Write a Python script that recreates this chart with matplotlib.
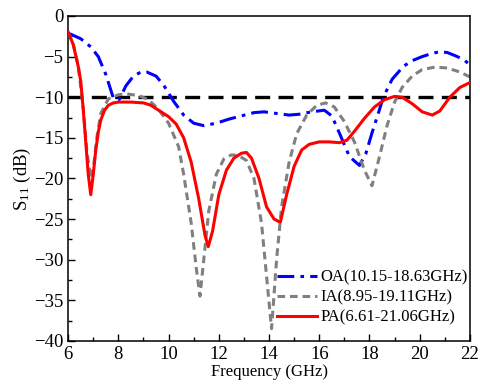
import matplotlib
matplotlib.use('Agg')
import matplotlib.pyplot as plt
from matplotlib.ticker import MultipleLocator

plt.rcParams['font.family'] = ['Liberation Serif', 'DejaVu Serif']
plt.rcParams['mathtext.fontset'] = 'custom'
plt.rcParams['mathtext.rm'] = 'Liberation Serif'
plt.rcParams['mathtext.it'] = 'Liberation Serif:italic'

# OA antenna
oa_f = [6.0, 6.5, 6.9, 7.2, 7.5, 7.8, 8.03, 8.3, 8.6, 8.9, 9.13, 9.5, 9.8, 10.2, 10.6, 11.0, 11.4,
        11.9, 12.4, 12.9, 13.4, 13.8, 14.3, 14.8, 15.2, 15.7, 16.2, 16.5, 16.8, 17.2, 17.6,
        17.85, 18.1, 18.35, 18.55, 18.9, 19.35, 19.7, 20.1, 20.5, 20.8, 21.1, 21.5, 21.8, 22.0]
oa_s = [-2.1, -2.8, -3.8, -5.0, -7.2, -10.1, -10.3, -8.6, -7.4, -6.9, -6.9, -7.4, -8.5, -10.5, -12.2, -13.2, -13.5,
        -13.2, -12.7, -12.3, -11.9, -11.8, -12.0, -12.2, -12.1, -11.8, -11.6, -12.3, -14.4, -17.3, -18.4,
        -17.0, -14.4, -12.0, -10.0, -7.8, -6.2, -5.5, -5.0, -4.6, -4.4, -4.5, -5.0, -5.5, -6.0]

# IA antenna
ia_f = [6.0, 6.2, 6.4, 6.6, 6.75, 6.9, 7.0, 7.15, 7.3, 7.6, 8.0, 8.35, 8.8, 9.2, 9.6, 10.0, 10.4,
        10.6, 10.9, 11.1, 11.25, 11.4, 11.6, 11.9, 12.2, 12.5, 12.8, 13.1, 13.4, 13.7, 13.9, 14.1,
        14.3, 14.5, 14.8, 15.1, 15.5, 15.9, 16.25, 16.6, 17.0, 17.4, 17.8, 18.1, 18.4, 18.7, 19.0,
        19.3, 19.7, 20.1, 20.6, 21.1, 21.6, 22.0]
ia_s = [-2.0, -3.4, -6.1, -11.3, -16.8, -20.0, -18.8, -14.8, -12.0, -10.2, -9.7, -9.6, -9.8, -10.3, -11.5, -13.2, -16.1,
        -19.5, -25.5, -31.0, -34.5, -30.0, -24.0, -19.5, -17.6, -17.1, -17.2, -17.8, -20.0, -25.5, -32.0, -38.5,
        -30.0, -23.5, -18.0, -14.5, -12.2, -11.0, -10.7, -11.2, -13.0, -15.5, -19.0, -20.9, -17.3, -13.5, -10.6,
        -8.8, -7.4, -6.6, -6.3, -6.4, -6.9, -7.5]

# PA antenna
pa_f = [6.0, 6.2, 6.4, 6.5, 6.6, 6.7, 6.8, 6.9, 7.0, 7.1, 7.2, 7.3, 7.45, 7.6, 7.8, 8.0, 8.5, 9.0, 9.3, 9.6, 10.0,
        10.3, 10.6, 10.9, 11.2, 11.45, 11.58, 11.75, 12.0, 12.3, 12.6, 12.9, 13.1, 13.3, 13.6, 13.9,
        14.2, 14.45, 14.7, 15.0, 15.3, 15.6, 16.0, 16.4, 16.8, 17.1, 17.4, 17.8, 18.2, 18.6, 19.0,
        19.3, 19.7, 20.1, 20.5, 20.8, 21.2, 21.6, 22.0]
pa_s = [-2.0, -3.5, -6.2, -8.0, -11.5, -15.5, -19.5, -22.0, -19.5, -16.5, -14.3, -12.8, -11.6, -11.0, -10.7, -10.6, -10.6, -10.7, -11.0, -11.6, -12.4,
        -13.3, -15.0, -18.0, -22.5, -27.0, -28.4, -26.5, -22.0, -19.0, -17.5, -16.9, -16.8, -17.5, -20.0, -23.5,
        -25.0, -25.4, -22.0, -18.5, -16.5, -15.8, -15.5, -15.5, -15.6, -15.3, -14.2, -12.6, -11.2, -10.3, -9.9,
        -10.0, -10.8, -11.8, -12.2, -11.7, -10.0, -8.8, -8.2]

fig = plt.figure(figsize=(4.8, 3.9), dpi=100)
ax = fig.add_axes([0.142, 0.126, 0.837, 0.833])

ax.axhline(-10, color='black', lw=2.4, ls=(0, (4.5, 2.5)), zorder=1)
ax.plot(oa_f, oa_s, color='#0000ff', lw=2.2, ls=(0, (5.5, 2, 1.2, 2)), label='OA(10.15-18.63GHz)', zorder=2)
ax.plot(ia_f, ia_s, color='#808080', lw=2.2, ls=(0, (2.5, 1.6)), label='IA(8.95-19.11GHz)', zorder=2)
ax.plot(pa_f, pa_s, color='#ff0000', lw=2.2, label='PA(6.61-21.06GHz)', zorder=3)

ax.set_xlim(6, 22)
ax.set_ylim(-40, 0)
ax.xaxis.set_major_locator(MultipleLocator(2))
ax.xaxis.set_minor_locator(MultipleLocator(1))
ax.yaxis.set_major_locator(MultipleLocator(5))
ax.yaxis.set_minor_locator(MultipleLocator(2.5))
ax.tick_params(which='major', direction='in', length=5, width=1, labelsize=13.5)
ax.tick_params(which='minor', direction='in', length=3, width=1)
for s in ax.spines.values():
    s.set_linewidth(1.1)

ax.set_xlabel('Frequency (GHz)', fontsize=12, labelpad=1)
ax.set_ylabel(r'S$_{\mathrm{11}}$ (dB)', fontsize=13.5, labelpad=1)

ax.legend(loc='lower right', bbox_to_anchor=(1.032, 0.0), frameon=False, fontsize=12,
          handlelength=2.4, handletextpad=0.2, labelspacing=0.25, borderaxespad=0.5)

fig.savefig('out.png', dpi=100)
